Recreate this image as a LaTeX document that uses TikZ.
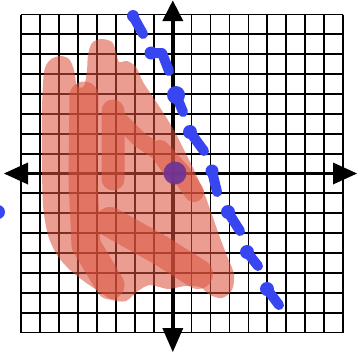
\documentclass[tikz,border=0pt]{standalone}
\definecolor{hl}{RGB}{219,82,62}
\definecolor{pen}{RGB}{55,70,240}
\definecolor{dot}{RGB}{110,50,150}
\begin{document}
\begin{tikzpicture}[x=1pt,y=-1pt,
  gridline/.style={line width=1.8pt,black},
  axisline/.style={line width=3.4pt,black},
  stroke/.style={hl,line cap=round,line join=round},
  bluedash/.style={pen,line width=10pt,line cap=round,line join=round}]
\useasboundingbox (0,0) rectangle (359,354);
\clip (0,0) rectangle (359,354);
% grid
\foreach \i in {0,...,17} \draw[gridline] ({21+18.95*\i},14.5) -- ({21+18.95*\i},332.5);
\foreach \j in {0,...,16} \draw[gridline] (21,{14.5+19.875*\j}) -- (343,{14.5+19.875*\j});
% axes
\coordinate (xl) at (4,173.5);
\coordinate (xr) at (357,173.5);
\coordinate (yt) at (172.8,0.5);
\coordinate (yb) at (172.8,352);
\draw[axisline] (26,173.5) -- (335,173.5);
\draw[axisline] (172.8,18) -- (172.8,330);
\fill (xl) -- (28,162.5) -- (28,184.5) -- cycle;
\fill (xr) -- (333,162.5) -- (333,184.5) -- cycle;
\fill (yt) -- (162.3,21) -- (183.3,21) -- cycle;
\fill (yb) -- (162.3,328) -- (183.3,328) -- cycle;
% shading (light layer)
\fill[hl,opacity=0.57] plot[smooth cycle, tension=0.5] coordinates {
 (101,39) (112,42) (116,52) (119,62) (127,61) (136,67) (143,82) (155,100)
 (166,117) (176,134) (185,152) (194,170) (203,190) (211,212) (219,235)
 (227,256) (234,274) (232,290) (222,298) (210,295) (200,287) (185,286)
 (168,289) (150,285) (138,291) (126,301) (112,300) (100,292) (85,282)
 (70,270) (57,255) (48,235) (43,205) (42,160) (42,110) (44,72) (50,60)
 (60,56) (69,59) (74,70) (77,86) (84,86) (87,70) (88,55) (92,43)};
% shading (retraced strokes)
\begin{scope}[transparency group,opacity=0.55]
 \draw[stroke,line width=29pt] (84,96) -- (83,180) -- (86,245) -- (110,285);
 \draw[stroke,line width=23pt] (113,111) -- (113,179);
 \draw[stroke,line width=16pt] (120,120) -- (140,140) -- (158,152) -- (172,172);
 \draw[stroke,line width=30pt] (110,222) -- (160,250) -- (198,274);
 \draw[stroke,line width=20pt] (160,150) -- (180,172) -- (194,192);
\end{scope}
% blue dashed line
\fill[pen] (133,16) circle (6);
\draw[bluedash] (133,16) -- (143,34);
\fill[pen] (151,53) circle (6.5);
\draw[bluedash] (151,53) -- (162,53) -- (169,71);
\fill[pen] (176,95) circle (9);
\draw[bluedash] (176,95) -- (183,112);
\fill[pen] (190,132) circle (7);
\draw[bluedash] (190,132) -- (204,151);
\fill[pen] (212,171) circle (6.5);
\draw[bluedash] (212,171) -- (217,192);
\fill[pen] (228,212) circle (7);
\draw[bluedash] (228,212) -- (240,231);
\fill[pen] (247,252) circle (7);
\draw[bluedash] (247,252) -- (258,266);
\fill[pen] (267,289) circle (7);
\draw[bluedash] (267,289) -- (279,305);
\fill[pen] (-2,212) circle (7);
% point
\fill[dot,opacity=0.9] (175,173) circle (11.5);
\end{tikzpicture}
\end{document}
